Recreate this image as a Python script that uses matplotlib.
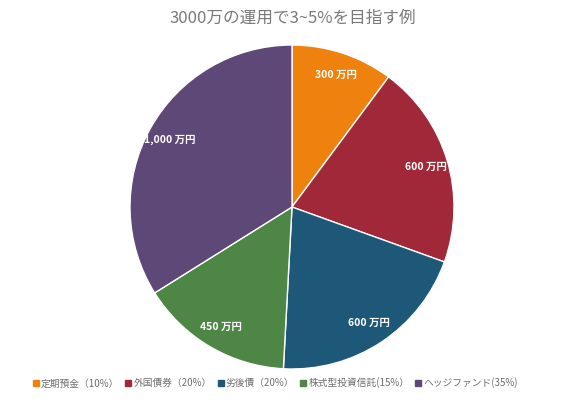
import matplotlib.pyplot as plt
from matplotlib.lines import Line2D

plt.rcParams['font.family'] = ['Noto Sans CJK JP', 'DejaVu Sans']

# data
categories = ['定期預金（10%）', '外国債券（20%）', '劣後債（20%）',
              '株式型投資信託(15%）', 'ヘッジファンド(35%)']
amounts = [300, 600, 600, 450, 1000]
amount_labels = ['300 万円', '600 万円', '600 万円', '450 万円', '1,000 万円']
colors = ['#EF810E', '#A02838', '#1E5879', '#4E8645', '#5E4877']

W, H = 586, 400
fig = plt.figure(figsize=(W / 100, H / 100), dpi=100)

cx, cy, r = 292, 207, 162
ax = fig.add_axes([(cx - r) / W, (H - cy - r) / H, 2 * r / W, 2 * r / H])

wedges, texts = ax.pie(amounts, colors=colors, startangle=90, counterclock=False,
                       labels=amount_labels, labeldistance=0.86,
                       wedgeprops=dict(edgecolor='white', linewidth=1))
for t in texts:
    t.set_color('white')
    t.set_fontsize(7.5)
    t.set_fontweight('bold')
    t.set_ha('center')
    t.set_va('center')
ax.set_xlim(-1, 1)
ax.set_ylim(-1, 1)
ax.set_aspect('equal')

fig.text(0.5, 1 - 18 / H, '3000万の運用で3~5%を目指す例', ha='center', va='center',
         fontsize=12, color='#7a7a7a')

handles = [Line2D([], [], marker='s', linestyle='none', markersize=4.2,
                  markerfacecolor=c, markeredgecolor=c) for c in colors]
fig.legend(handles, categories, loc='center', bbox_to_anchor=(0.47, 1 - 383 / H),
           ncol=5, frameon=False, fontsize=7, labelcolor='#6e6e6e',
           handlelength=0.6, handletextpad=0.25, columnspacing=0.6)

fig.savefig('out.png', dpi=100)
